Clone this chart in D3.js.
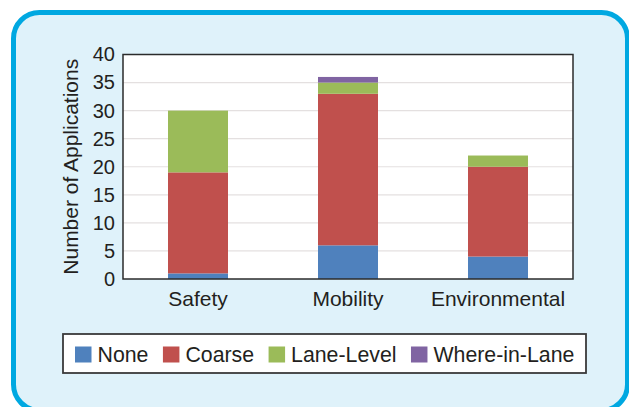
<!DOCTYPE html>
<html>
<head>
<meta charset="utf-8">
<script src="https://cdn.jsdelivr.net/npm/d3@7/dist/d3.min.js"></script>
<style>
  html, body { margin: 0; padding: 0; background: #ffffff; }
  svg { display: block; }
  text { font-family: "Liberation Sans", Arial, Helvetica, sans-serif; fill: #231f20; }
</style>
</head>
<body>
<svg id="chart" width="629" height="407"></svg>
<script>
// ---- data ----
const categories = ["Safety", "Mobility", "Environmental"];
const seriesNames = ["None", "Coarse", "Lane-Level", "Where-in-Lane"];
const noneValues = [1, 6, 4];
const coarseValues = [18, 27, 16];
const laneLevelValues = [11, 2, 2];
const whereInLaneValues = [0, 1, 0];
const yTicks = [0, 5, 10, 15, 20, 25, 30, 35, 40];
const seriesColors = ["#4f81bd", "#c0504d", "#9bbb59", "#8064a2"];
const yTitle = "Number of Applications";

// ---- build table ----
const seriesValues = [noneValues, coarseValues, laneLevelValues, whereInLaneValues];
const table = categories.map((c, i) => {
  const row = { category: c };
  seriesNames.forEach((s, j) => { row[s] = seriesValues[j][i]; });
  return row;
});
const stacked = d3.stack().keys(seriesNames)(table);

const svg = d3.select("#chart");

// background panel
svg.append("rect")
  .attr("x", 13.5).attr("y", 12.5)
  .attr("width", 614).attr("height", 398)
  .attr("rx", 26).attr("ry", 26)
  .attr("fill", "#dff2fa")
  .attr("stroke", "#00a8e1")
  .attr("stroke-width", 5);

const plot = { left: 123, top: 54.5, right: 573, bottom: 279 };

const x = d3.scaleBand()
  .domain(categories)
  .range([plot.left, plot.right])
  .paddingInner(0.6)
  .paddingOuter(0.3);

const y = d3.scaleLinear()
  .domain([0, 40])
  .range([plot.bottom, plot.top]);

// plot background
svg.append("rect")
  .attr("x", plot.left).attr("y", plot.top)
  .attr("width", plot.right - plot.left).attr("height", plot.bottom - plot.top)
  .attr("fill", "#ffffff");

// gridlines
svg.append("g")
  .selectAll("line")
  .data(yTicks.filter(t => t > 0 && t < 40))
  .join("line")
  .attr("x1", plot.left).attr("x2", plot.right)
  .attr("y1", d => y(d)).attr("y2", d => y(d))
  .attr("stroke", "#e4e0e0")
  .attr("stroke-width", 1.2);

// bars
svg.append("g")
  .selectAll("g")
  .data(stacked)
  .join("g")
  .attr("fill", (d, i) => seriesColors[i])
  .selectAll("rect")
  .data(d => d.filter(s => s[1] - s[0] > 0))
  .join("rect")
  .attr("x", d => x(d.data.category))
  .attr("width", x.bandwidth())
  .attr("y", d => y(d[1]))
  .attr("height", d => y(d[0]) - y(d[1]));

// plot frame
svg.append("rect")
  .attr("x", plot.left).attr("y", plot.top)
  .attr("width", plot.right - plot.left).attr("height", plot.bottom - plot.top)
  .attr("fill", "none")
  .attr("stroke", "#2b2b2b")
  .attr("stroke-width", 1.5);

// y axis
const yAxis = svg.append("g")
  .attr("transform", `translate(${plot.left},0)`)
  .call(d3.axisLeft(y).tickValues(yTicks).tickSize(0).tickPadding(8));
yAxis.select(".domain").remove();
yAxis.selectAll("text")
  .attr("font-size", 20)
  .attr("fill", "#231f20")
  .style("font-family", "'Liberation Sans', Arial, sans-serif");

// x axis
const xAxis = svg.append("g")
  .attr("transform", `translate(0,${plot.bottom})`)
  .call(d3.axisBottom(x).tickSize(0).tickPadding(12));
xAxis.select(".domain").remove();
xAxis.selectAll("text")
  .attr("font-size", 21)
  .attr("fill", "#231f20")
  .style("font-family", "'Liberation Sans', Arial, sans-serif");

// y title
svg.append("text")
  .attr("transform", `translate(78,${(plot.top + plot.bottom) / 2}) rotate(-90)`)
  .attr("text-anchor", "middle")
  .attr("font-size", 21)
  .text(yTitle);

// legend
const legend = svg.append("g");
legend.append("rect")
  .attr("x", 63).attr("y", 334)
  .attr("width", 523).attr("height", 39)
  .attr("fill", "#ffffff")
  .attr("stroke", "#3a3a3a")
  .attr("stroke-width", 1.8);

let lx = 75;
seriesNames.forEach((name, i) => {
  legend.append("rect")
    .attr("x", lx).attr("y", 346.5)
    .attr("width", 16.5).attr("height", 16)
    .attr("fill", seriesColors[i]);
  const t = legend.append("text")
    .attr("x", lx + 22.5).attr("y", 362)
    .attr("font-size", 21.3)
    .text(name);
  lx += 22.5 + t.node().getComputedTextLength() + 14.5;
});
</script>
</body>
</html>
